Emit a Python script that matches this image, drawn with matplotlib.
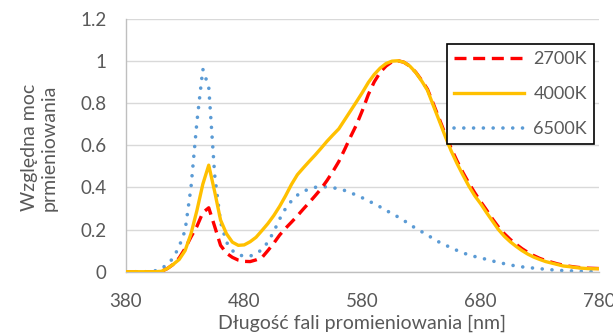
import matplotlib
matplotlib.use('Agg')
import matplotlib.pyplot as plt
from matplotlib.ticker import FuncFormatter

wavelengths = list(range(380, 785, 5))

cct_2700 = [0.0, 0.0, 0.0, 0.0, 0.0, 0.0, 0.002, 0.015, 0.035, 0.065,
            0.11, 0.165, 0.215, 0.28, 0.303, 0.215, 0.125, 0.088, 0.068, 0.055,
            0.049, 0.048, 0.056, 0.067, 0.1, 0.135, 0.174, 0.206, 0.235, 0.265,
            0.297, 0.328, 0.36, 0.393, 0.432, 0.475, 0.522, 0.58, 0.64, 0.697,
            0.765, 0.84, 0.9, 0.945, 0.975, 0.995, 1.0, 0.993, 0.975, 0.946,
            0.908, 0.865, 0.795, 0.724, 0.652, 0.585, 0.525, 0.47, 0.42, 0.374,
            0.332, 0.292, 0.25, 0.212, 0.18, 0.153, 0.13, 0.109, 0.091, 0.076,
            0.063, 0.053, 0.045, 0.037, 0.031, 0.026, 0.022, 0.019, 0.017, 0.016,
            0.015]

cct_4000 = [0.0, 0.0, 0.0, 0.0, 0.0, 0.0, 0.002, 0.015, 0.035, 0.058,
            0.10, 0.18, 0.29, 0.415, 0.505, 0.38, 0.245, 0.18, 0.14, 0.125,
            0.127, 0.142, 0.163, 0.195, 0.228, 0.266, 0.31, 0.36, 0.414, 0.46,
            0.492, 0.523, 0.553, 0.585, 0.618, 0.648, 0.677, 0.72, 0.763, 0.806,
            0.85, 0.897, 0.935, 0.965, 0.987, 0.998, 1.0, 0.993, 0.975, 0.945,
            0.905, 0.86, 0.787, 0.715, 0.642, 0.573, 0.513, 0.458, 0.406, 0.36,
            0.322, 0.28, 0.24, 0.2, 0.168, 0.142, 0.12, 0.1, 0.083, 0.069,
            0.058, 0.048, 0.041, 0.034, 0.027, 0.024, 0.02, 0.017, 0.015, 0.014,
            0.014]

cct_6500 = [0.0, 0.0, 0.0, 0.0, 0.0, 0.005, 0.015, 0.035, 0.065, 0.12,
            0.195, 0.40, 0.71, 0.96, 0.875, 0.46, 0.235, 0.14, 0.10, 0.08,
            0.074, 0.074, 0.085, 0.105, 0.14, 0.19, 0.25, 0.30, 0.336, 0.363,
            0.381, 0.392, 0.40, 0.403, 0.402, 0.398, 0.393, 0.385, 0.374, 0.363,
            0.35, 0.336, 0.322, 0.307, 0.291, 0.275, 0.26, 0.243, 0.224, 0.206,
            0.19, 0.174, 0.156, 0.14, 0.127, 0.113, 0.101, 0.09, 0.079, 0.072,
            0.066, 0.058, 0.051, 0.044, 0.038, 0.032, 0.027, 0.023, 0.02, 0.017,
            0.014, 0.012, 0.009, 0.007, 0.005, 0.004, 0.003, 0.002, 0.001, 0.001,
            0.002]

x_ticks = [380, 480, 580, 680, 780]
y_ticks = [0, 0.2, 0.4, 0.6, 0.8, 1.0, 1.2]

plt.rcParams['font.family'] = ['Lato', 'DejaVu Sans']
text_grey = '#595959'

fig = plt.figure(figsize=(6.13, 3.34), dpi=100)
ax = fig.add_axes([0.2055, 0.1865, 0.7715, 0.758])

ax.plot(wavelengths, cct_2700, color='#FF0000', lw=2.4, dashes=(3.6, 2.0),
        dash_capstyle='butt', label='2700K', zorder=3)
ax.plot(wavelengths, cct_4000, color='#FFC000', lw=2.4, label='4000K', zorder=4)
ax.plot(wavelengths, cct_6500, color='#5B9BD5', lw=2.6, dashes=(0.01, 2.7),
        dash_capstyle='round', label='6500K', zorder=2)

ax.set_xlim(380, 780)
ax.set_ylim(0, 1.2)
ax.set_xticks(x_ticks)
ax.set_yticks(y_ticks)
ax.yaxis.set_major_formatter(FuncFormatter(lambda v, p: f'{v:g}'))
ax.tick_params(length=0, labelsize=13.5, colors=text_grey)
ax.tick_params(axis='y', pad=14)
ax.tick_params(axis='x', pad=15)

ax.grid(axis='y', color='#D9D9D9', lw=1)
ax.set_axisbelow(True)
for side in ['top', 'right']:
    ax.spines[side].set_visible(False)
for side in ['left', 'bottom']:
    ax.spines[side].set_color('#BFBFBF')
    ax.spines[side].set_linewidth(1)

ax.set_xlabel('Długość fali promieniowania [nm]', fontsize=14, color=text_grey, labelpad=4)
ax.set_ylabel('Względna moc\nprmieniowania', fontsize=14, color=text_grey,
              linespacing=1.15)
ax.yaxis.set_label_coords(-0.145, 0.49)

leg = ax.legend(loc='upper right', bbox_to_anchor=(0.99, 0.9), fontsize=13,
                handlelength=3.9, handletextpad=0.5, borderpad=0.4,
                labelspacing=1.05, borderaxespad=0, fancybox=False, framealpha=1)
leg.get_frame().set_edgecolor('black')
leg.get_frame().set_linewidth(1.2)
for t in leg.get_texts():
    t.set_color(text_grey)

fig.savefig('out.png', dpi=100)
